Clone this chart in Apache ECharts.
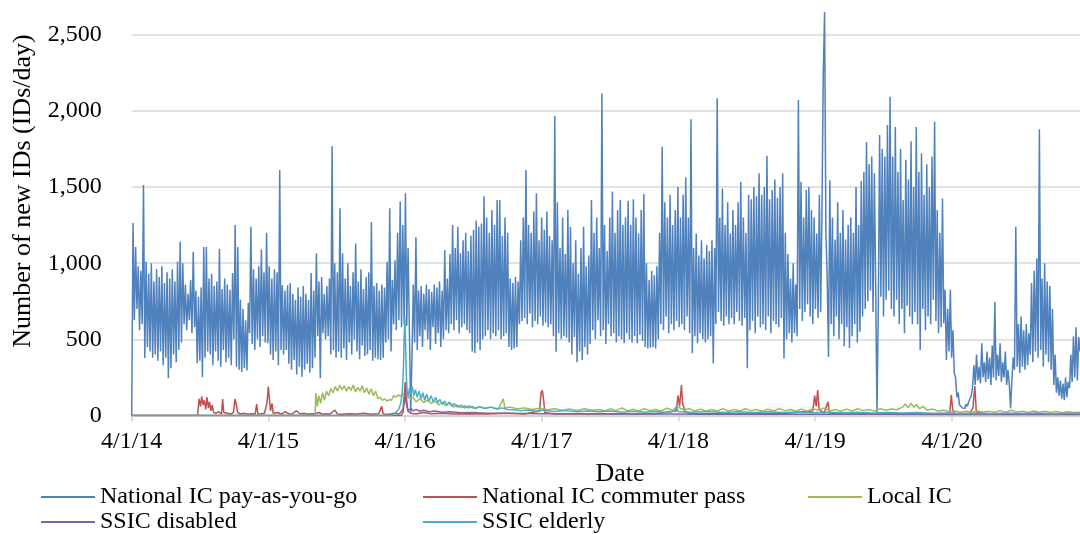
<!DOCTYPE html>
<html><head><meta charset="utf-8">
<script src="https://cdn.jsdelivr.net/npm/echarts@6/dist/echarts.min.js"></script>
<style>html,body{margin:0;padding:0;background:#fff}#c{width:1080px;height:534px}</style>
</head><body><div id="c"></div>
<script>
// Day index 0 = 4/1/14. National IC pay-as-you-go sampled twice a week:
// payA at day 7k, payB at day 7k+3.5
const payA = [
0,626,700,560,600,378,450,420,380,400,
360,420,330,380,245,310,400,350,430,480,
600,560,626,540,580,343,360,253,380,420,
400,330,420,360,320,430,350,380,330,500,
320,300,285,310,295,540,470,430,500,450,
520,480,475,400,365,420,330,430,400,430,
340,300,365,270,320,255,300,340,280,310,
380,520,245,540,500,520,400,430,380,420,
380,440,365,480,400,500,420,370,460,390,
400,430,360,380,370,365,380,480,500,420,
600,560,626,580,600,590,560,400,480,430,
520,450,560,500,430,580,470,540,450,500,
560,540,600,560,625,540,580,600,560,540,
420,410,480,430,500,520,560,500,540,520,
560,500,520,540,450,430,440,450,600,620,
640,600,670,580,620,600,650,590,610,580,
600,520,418,540,500,520,510,480,400,515,
350,420,365,450,400,470,560,500,625,520,
560,470,600,520,540,480,520,500,475,540,
500,480,520,475,530,490,450,440,445,450,
440,500,600,560,650,540,600,560,620,580,
600,560,650,540,408,520,475,540,500,480,
500,520,342,600,680,620,590,650,600,640,
600,680,620,590,640,310,560,620,540,650,
580,600,560,650,540,620,600,580,640,375,
500,540,480,540,520,700,620,680,730,650,
600,700,640,680,2247,1200,385,600,520,650,
500,600,455,580,443,520,600,480,550,650,
700,750,820,680,865,700,780,650,760,820,
700,650,760,600,700,540,720,650,600,680,
600,430,700,560,650,600,760,620,540,580,
605,365,420,380,280,120,70,50,45,60,
110,190,200,230,210,250,220,240,200,250,
230,260,220,250,200,210,230,300,320,280,
320,300,330,400,350,420,380,430,320,400,
350,300,200,150,130,110,100,120,180,220,
250,230,420
];
const payB = [
1264,1106,980,950,1513,1010,930,1000,880,960,
910,980,870,940,900,960,880,1010,1140,1000,
860,800,890,1075,820,780,840,1107,1107,900,
930,850,880,1095,830,900,860,825,935,1250,
1106,760,700,625,740,1240,960,900,980,1090,
940,1200,980,900,960,940,1612,855,820,855,
870,800,760,840,780,850,800,760,935,820,
1065,880,910,800,850,900,1770,1000,940,1360,
1065,900,1000,850,940,1130,880,960,830,910,
940,1270,850,870,820,860,840,1010,1360,890,
1020,1200,1405,1250,1460,1100,20,860,1170,820,
850,800,860,830,810,860,840,880,820,1086,
900,1060,1250,1100,1240,1065,1150,1200,1080,1180,
1220,1280,1240,1260,1440,1300,1200,1350,1250,1415,
1415,1180,1300,1200,900,870,910,880,1150,1300,
1612,1250,1200,1340,1460,1150,1300,1220,1340,1180,
1150,1968,1400,1100,1300,1060,1350,1240,1000,1150,
930,1100,1240,980,1050,1415,1200,1300,1100,2115,
1250,1080,1300,1470,1200,1350,1415,1250,1300,1410,
1250,1420,1300,1195,1350,1455,1000,890,950,920,
980,1200,1765,1400,1300,1450,1250,1350,1500,1300,
1450,1565,1300,1945,1100,1195,1050,1150,1030,1120,
1080,1150,1100,2083,1300,1490,1250,1400,1195,1350,
1250,1400,1535,1300,1200,1450,1420,1500,1440,1590,
1450,1500,1705,1420,1480,1550,1430,1500,1590,1200,
1060,900,1000,860,2071,1535,1300,1480,1500,1350,
1300,1195,1450,1350,2650,900,1545,1300,1155,1400,
1200,1350,1155,1250,1300,1200,1500,1250,1540,1600,
1795,1650,1700,1590,10,1841,1750,1700,1907,2093,
1700,1895,1600,1750,1415,1680,1550,1800,1500,1895,
1600,1720,1450,1650,1500,1700,1928,1350,1200,1425,
825,700,825,560,250,150,80,60,75,90,
130,330,400,320,475,350,420,380,460,745,
400,475,350,420,300,48,380,1240,600,650,
560,600,540,870,950,1030,1880,900,1000,880,
850,700,400,250,230,210,250,220,400,520,
580,515
];
// [day, value]
const commuter = [[0,0],[176,0],[180,110],[184,60],[187,125],[191,70],[194,100],[198,40],[201,120],[205,50],[208,90],[212,30],[215,70],[219,20],[226,15],[233,25],[240,10],[243,108],[246,20],[255,15],[265,10],[272,20],[276,108],[279,80],[283,20],[290,10],[300,15],[310,8],[320,12],[330,10],[334,75],[337,10],[345,12],[355,15],[362,90],[365,190],[368,110],[371,30],[375,80],[378,15],[390,20],[400,8],[410,25],[420,10],[430,12],[440,30],[450,10],[460,15],[470,8],[480,12],[490,10],[500,20],[510,8],[520,12],[530,10],[543,35],[550,10],[560,8],[580,12],[600,10],[620,15],[640,8],[660,12],[668,60],[672,10],[690,8],[700,15],[715,10],[725,40],[729,150],[731,220],[734,120],[738,30],[745,15],[760,10],[780,20],[800,12],[830,15],[860,10],[900,12],[950,10],[1000,15],[1050,10],[1090,30],[1094,150],[1097,165],[1100,120],[1104,20],[1130,10],[1200,12],[1300,10],[1400,12],[1455,30],[1460,130],[1464,60],[1469,200],[1472,80],[1478,30],[1490,10],[1550,12],[1650,10],[1750,15],[1820,30],[1825,130],[1829,60],[1833,167],[1837,40],[1850,15],[1861,90],[1864,15],[1900,10],[2000,12],[2100,10],[2180,12],[2186,20],[2190,135],[2194,30],[2200,10],[2240,15],[2248,50],[2253,194],[2257,20],[2300,10],[2400,12],[2534,10]];
const localIC = [[0,0],[490,0],[492,148],[496,60],[500,130],[505,80],[510,150],[515,100],[520,160],[526,130],[532,175],[538,150],[544,190],[550,160],[556,200],[562,170],[568,195],[574,160],[580,190],[586,165],[592,200],[598,155],[604,185],[610,160],[616,195],[622,150],[628,180],[634,140],[640,175],[646,130],[652,160],[658,110],[664,120],[670,100],[676,110],[682,95],[688,105],[694,100],[700,130],[706,120],[712,135],[718,125],[724,140],[731,130],[738,120],[745,110],[752,120],[760,90],[770,110],[780,85],[790,100],[800,80],[810,95],[820,70],[830,85],[840,65],[850,88],[860,55],[870,70],[880,50],[890,65],[900,48],[910,60],[920,45],[930,58],[940,48],[960,55],[980,45],[993,110],[997,50],[1010,55],[1030,45],[1050,50],[1070,40],[1090,48],[1110,38],[1130,45],[1150,35],[1170,42],[1190,33],[1210,45],[1230,35],[1250,40],[1265,30],[1280,45],[1295,32],[1310,50],[1325,30],[1340,42],[1355,28],[1370,45],[1385,32],[1400,40],[1415,30],[1430,48],[1445,35],[1460,55],[1475,38],[1490,45],[1505,30],[1520,42],[1535,28],[1550,40],[1565,30],[1580,45],[1595,28],[1610,40],[1625,30],[1640,45],[1655,32],[1670,40],[1685,28],[1700,42],[1715,30],[1730,45],[1745,32],[1760,40],[1775,30],[1790,42],[1805,28],[1820,45],[1835,35],[1850,50],[1865,30],[1880,40],[1895,28],[1910,42],[1925,30],[1940,45],[1955,32],[1970,40],[1985,30],[2000,45],[2015,35],[2030,42],[2045,38],[2060,55],[2067,75],[2075,50],[2082,80],[2090,55],[2097,72],[2105,45],[2115,60],[2125,35],[2140,42],[2155,30],[2170,35],[2185,25],[2200,30],[2215,22],[2230,28],[2245,20],[2260,30],[2275,22],[2290,28],[2305,20],[2320,32],[2335,22],[2350,35],[2365,22],[2380,28],[2395,20],[2410,30],[2425,22],[2440,28],[2455,20],[2470,26],[2485,18],[2500,25],[2515,20],[2534,22]];
const ssicDisabled = [[0,0],[720,0],[725,20],[728,80],[730,140],[733,90],[736,50],[740,35],[746,45],[752,30],[760,40],[770,28],[780,35],[795,25],[810,30],[830,22],[850,25],[880,18],[910,20],[950,15],[1000,14],[1100,12],[1200,11],[1400,10],[1600,9],[1800,9],[2000,8],[2200,7],[2534,7]];
const ssicElderly = [[0,0],[690,0],[700,10],[708,25],[714,45],[719,80],[723,150],[726,300],[728,500],[730,650],[732,450],[734,250],[736,160],[739,120],[742,180],[746,140],[750,190],[754,130],[758,170],[763,120],[768,160],[773,110],[778,150],[783,100],[788,140],[794,95],[800,130],[806,90],[812,120],[818,85],[824,105],[830,75],[836,95],[842,70],[848,85],[855,62],[862,78],[870,55],[880,68],[890,50],[900,62],[915,48],[930,58],[945,45],[960,55],[975,42],[990,50],[1005,40],[1020,38],[1040,32],[1060,36],[1080,28],[1100,34],[1130,26],[1160,32],[1190,25],[1220,30],[1250,24],[1280,30],[1310,22],[1340,28],[1370,22],[1400,26],[1430,20],[1450,30],[1455,60],[1460,25],[1500,22],[1540,26],[1580,20],[1620,25],[1660,20],[1700,24],[1740,19],[1780,23],[1820,18],[1860,22],[1900,18],[1940,22],[1980,17],[2020,20],[2060,16],[2100,20],[2140,15],[2180,17],[2220,12],[2260,15],[2300,12],[2340,16],[2380,13],[2420,16],[2460,12],[2500,15],[2534,14]];
const seriesNames = ['National IC pay-as-you-go','National IC commuter pass','Local IC','SSIC disabled','SSIC elderly'];
const seriesColors = ['#4F81BD','#C0504D','#9BBB59','#8064A2','#4BACC6'];
const yTitle = 'Number of new IDs (IDs/day)';
const xTitle = 'Date';

const payData = [];
for (let k = 0; k < payA.length; k++) {
  payData.push([7 * k, payA[k]]);
  if (k < payB.length) payData.push([7 * k + 3.5, payB[k]]);
}
const allData = [payData, commuter, localIC, ssicDisabled, ssicElderly];
const FONT = '"Liberation Serif", "Times New Roman", serif';
const chart = echarts.init(document.getElementById('c'), null, {renderer: 'canvas'});
function fmtDate(v) {
  const d = new Date(2014, 3, 1 + Math.round(v));
  return (d.getMonth() + 1) + '/' + d.getDate() + '/' + String(d.getFullYear()).slice(2);
}
function mkLegend(left, names) {
  return {
    orient: 'vertical', left: left, top: 485, itemWidth: 54, itemHeight: 14, itemGap: 1,
    padding: 0, data: names,
    itemStyle: {opacity: 0, color: 'transparent', borderWidth: 0},
    lineStyle: {width: 2},
    textStyle: {fontFamily: FONT, fontSize: 24, color: '#000', lineHeight: 24}
  };
}
chart.setOption({
  animation: false,
  backgroundColor: '#fff',
  grid: {left: 131.7, right: 0, top: 4.3, bottom: 118.5},
  xAxis: {
    type: 'value', min: 0, max: 2534, interval: 365.25,
    axisLine: {show: true, lineStyle: {color: '#d0d0d0', width: 1.5}},
    axisTick: {show: true, length: 6, lineStyle: {color: '#d0d0d0', width: 1.5}},
    splitLine: {show: false},
    axisLabel: {formatter: fmtDate, fontFamily: FONT, fontSize: 24, color: '#000', margin: 14, showMaxLabel: false}
  },
  yAxis: {
    type: 'value', min: 0, max: 2700, interval: 500,
    axisLine: {show: false}, axisTick: {show: false},
    splitLine: {show: true, showMaxLine: false, lineStyle: {color: '#d9d9d9', width: 1.5}},
    axisLabel: {
      formatter: v => (v % 500 === 0 ? v.toLocaleString('en-US') : ''),
      fontFamily: FONT, fontSize: 24, color: '#000', margin: 30, showMaxLabel: false
    }
  },
  legend: [
    mkLegend(40, [seriesNames[0], seriesNames[3]]),
    mkLegend(422, [seriesNames[1], seriesNames[4]]),
    mkLegend(807, [seriesNames[2]])
  ],
  graphic: [
    {type: 'text', x: 23, y: 191, rotation: Math.PI / 2,
     style: {text: yTitle, font: '26px ' + FONT, fill: '#000', textAlign: 'center', textVerticalAlign: 'middle'}},
    {type: 'text', x: 620, y: 474,
     style: {text: xTitle, font: '26px ' + FONT, fill: '#000', textAlign: 'center', textVerticalAlign: 'middle'}}
  ],
  series: seriesNames.map((n, i) => ({
    name: n, type: 'line', data: allData[i], symbol: 'none', showSymbol: false,
    sampling: 'none', color: seriesColors[i],
    lineStyle: {width: 1.5, color: seriesColors[i]}, z: 2 + i
  }))
});
</script></body></html>
